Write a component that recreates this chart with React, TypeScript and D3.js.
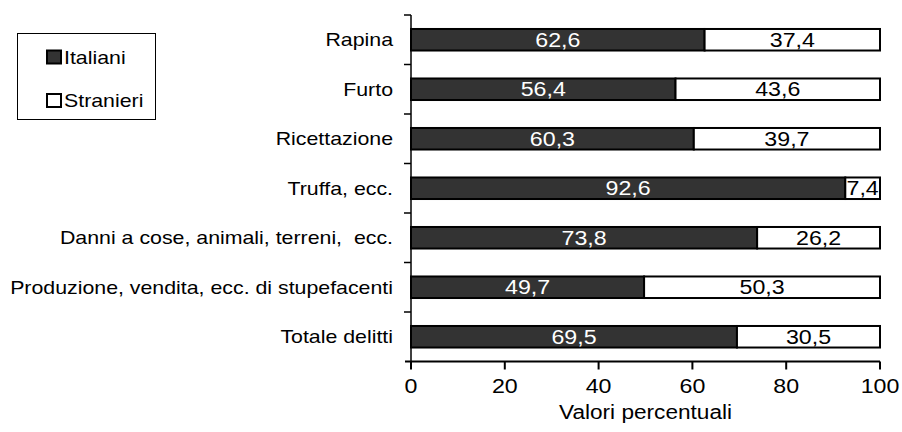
import React from "react";
import * as d3 from "d3";

const categories = [
  "Rapina",
  "Furto",
  "Ricettazione",
  "Truffa, ecc.",
  "Danni a cose, animali, terreni,  ecc.",
  "Produzione, vendita, ecc. di stupefacenti",
  "Totale delitti",
];
const italiani = [62.6, 56.4, 60.3, 92.6, 73.8, 49.7, 69.5];
const stranieri = [37.4, 43.6, 39.7, 7.4, 26.2, 50.3, 30.5];
const xTicks = [0, 20, 40, 60, 80, 100];
const seriesNames = ["Italiani", "Stranieri"];
const axisTitle = "Valori percentuali";

const fmt = (v: number) => v.toFixed(1).replace(".", ",");
const SX = 1.16;

function T(props: {
  x: number;
  y: number;
  size: number;
  anchor?: "start" | "middle" | "end";
  fill?: string;
  dy?: string;
  children: React.ReactNode;
}) {
  const { x, y, size, anchor = "start", fill = "#000", dy, children } = props;
  return (
    <text
      x={0}
      y={0}
      dy={dy}
      fontSize={size}
      textAnchor={anchor}
      fill={fill}
      style={{ whiteSpace: "pre" }}
      transform={`translate(${x},${y}) scale(${SX},1)`}
    >
      {children}
    </text>
  );
}

export default function App() {
  const W = 902;
  const H = 432;
  const x = d3.scaleLinear().domain([0, 100]).range([411, 880]);
  const y0 = 15;
  const y1 = 361.5;
  const y = d3
    .scaleBand<string>()
    .domain(categories)
    .range([y0, y1])
    .paddingInner(0.565)
    .paddingOuter(0.2825);
  const step = y.step();
  const font = "Arial, 'Liberation Sans', sans-serif";
  const bandBounds = d3.range(categories.length).map((i) => y0 + i * step);

  return (
    <svg
      width={W}
      height={H}
      style={{ position: "absolute", left: 0, top: 0, background: "#fff" }}
      fontFamily={font}
    >
      {categories.map((c, i) => {
        const by = y(c)!;
        const bh = y.bandwidth();
        const xi = x(italiani[i]);
        const xe = x(italiani[i] + stranieri[i]);
        const cy = by + bh / 2;
        return (
          <g key={c}>
            <rect x={x(0)} y={by} width={xi - x(0)} height={bh} fill="#333333" stroke="#000" strokeWidth={2} />
            <rect x={xi} y={by} width={xe - xi} height={bh} fill="#ffffff" stroke="#000" strokeWidth={2} />
            <T x={(x(0) + xi) / 2} y={cy} dy="0.36em" anchor="middle" fill="#fff" size={20}>
              {fmt(italiani[i])}
            </T>
            <T x={(xi + xe) / 2} y={cy} dy="0.36em" anchor="middle" size={20}>
              {fmt(stranieri[i])}
            </T>
            <T x={393} y={cy} dy="0.36em" anchor="end" size={18.4}>
              {c}
            </T>
          </g>
        );
      })}

      {/* y axis */}
      <line x1={x(0)} x2={x(0)} y1={y0} y2={y1 + 6} stroke="#000" strokeWidth={1.5} />
      {bandBounds.map((b, i) => (
        <line key={i} x1={404} x2={x(0)} y1={b} y2={b} stroke="#000" strokeWidth={1.5} />
      ))}

      {/* x axis */}
      <line x1={x(0) - 6} x2={x(100)} y1={y1} y2={y1} stroke="#000" strokeWidth={2} />
      {xTicks.map((t) => (
        <g key={t}>
          <line x1={x(t)} x2={x(t)} y1={y1} y2={y1 + 8} stroke="#000" strokeWidth={2} />
          <T x={x(t)} y={393} anchor="middle" size={20}>
            {t}
          </T>
        </g>
      ))}
      <T x={(x(0) + x(100)) / 2} y={419} anchor="middle" size={19.5}>
        {axisTitle}
      </T>

      {/* legend */}
      <rect x={17.5} y={33.5} width={138} height={86} fill="#fff" stroke="#000" strokeWidth={1} />
      {seriesNames.map((s, i) => (
        <g key={s}>
          <rect
            x={47}
            y={50.5 + i * 43.5}
            width={14}
            height={13}
            fill={i === 0 ? "#333333" : "#fff"}
            stroke="#000"
            strokeWidth={2}
          />
          <T x={64} y={57 + i * 43.5} dy="0.36em" size={18.4}>
            {s}
          </T>
        </g>
      ))}
    </svg>
  );
}
